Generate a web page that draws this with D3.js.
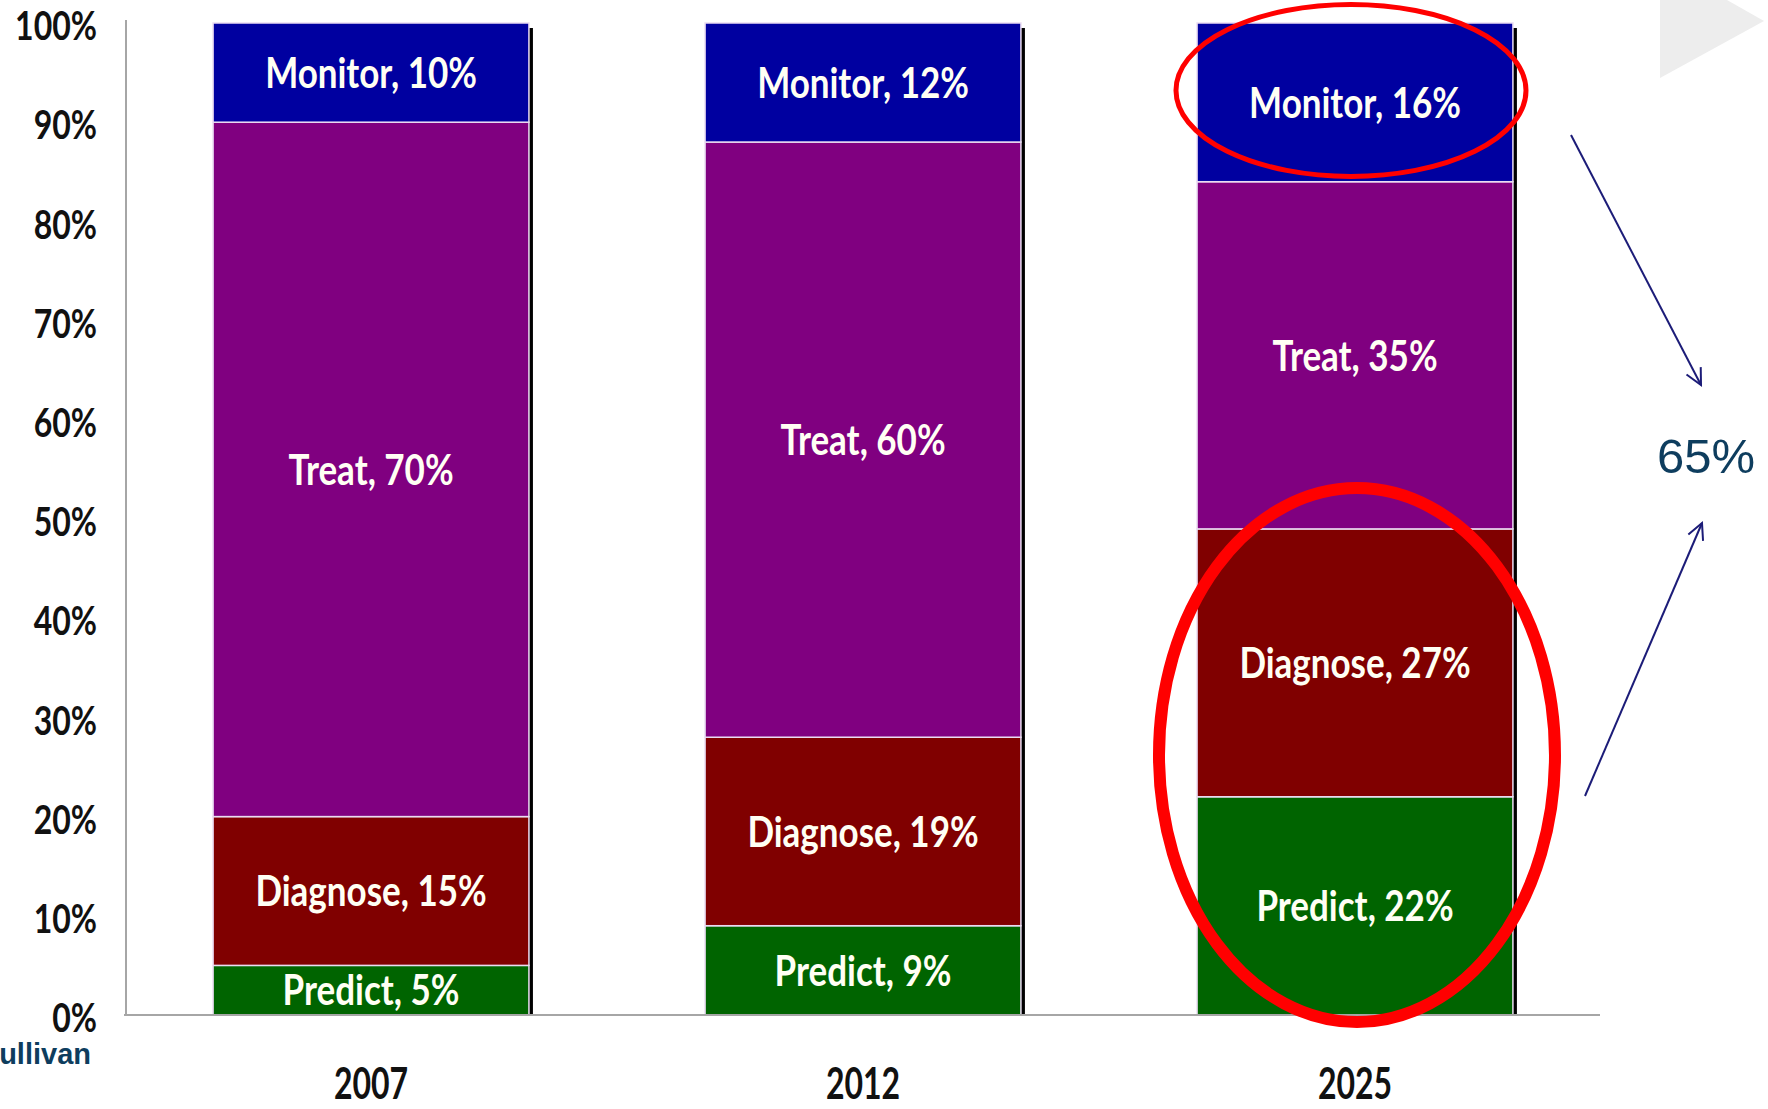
<!DOCTYPE html>
<html>
<head>
<meta charset="utf-8">
<script src="https://cdn.jsdelivr.net/npm/d3@7"></script>
<style>
  html, body { margin: 0; padding: 0; background: #ffffff; }
  svg { display: block; }
</style>
</head>
<body>
<svg id="chart" width="1768" height="1109"></svg>
<script>
// ---- data ----
const categories = ["2007", "2012", "2025"];
const segmentNames = ["Predict", "Diagnose", "Treat", "Monitor"];
const predictValues = [5, 9, 22];
const diagnoseValues = [15, 19, 27];
const treatValues = [70, 60, 35];
const monitorValues = [10, 12, 16];
const yTickValues = [0, 10, 20, 30, 40, 50, 60, 70, 80, 90, 100];
const segmentColors = ["#006400", "#800000", "#800080", "#0000a0"];
const annotationText = "65%";
const sourceText = "ullivan";

// ---- layout ----
const W = 1768, H = 1109;
const svg = d3.select("#chart");
const axisX = 126, baseY = 1015, topY = 23;
const labelFont = "Lato, 'Open Sans', sans-serif";

const rows = categories.map((c, i) => ({
  category: c,
  Predict: predictValues[i],
  Diagnose: diagnoseValues[i],
  Treat: treatValues[i],
  Monitor: monitorValues[i]
}));

const x = d3.scaleBand().domain(categories).range([axisX, 1600])
  .paddingInner(0.358).paddingOuter(0.177);
const y = d3.scaleLinear().domain([0, 100]).range([baseY, topY]);
const color = d3.scaleOrdinal().domain(segmentNames).range(segmentColors);
const bw = x.bandwidth();

const stacked = d3.stack().keys(segmentNames)(rows);

// light gray decoration at top right
svg.append("polygon")
  .attr("points", "1660,0 1727,0 1764,21 1660,78")
  .attr("fill", "#ededed");

// bar shadows (black right edge)
svg.append("g").selectAll("rect")
  .data(rows)
  .join("rect")
  .attr("x", d => x(d.category) + bw)
  .attr("y", y(100) + 5)
  .attr("width", 4)
  .attr("height", y(0) - y(100) - 5)
  .attr("fill", "#000");

// stacked segments
const layers = svg.append("g").selectAll("g")
  .data(stacked)
  .join("g")
  .attr("fill", d => color(d.key));

layers.selectAll("rect")
  .data(d => d.map(p => ({ key: d.key, p })))
  .join("rect")
  .attr("x", d => x(d.p.data.category))
  .attr("y", d => y(d.p[1]))
  .attr("width", bw)
  .attr("height", d => y(d.p[0]) - y(d.p[1]))
  .attr("stroke", "#eadcf2")
  .attr("stroke-width", 1.5);

// segment labels
const sy = 1.21;
layers.each(function(layer) {
  d3.select(this).selectAll("text")
    .data(layer.map(p => ({ key: layer.key, p })))
    .join("text")
    .attr("transform", d => `translate(${x(d.p.data.category) + bw / 2},${y((d.p[0] + d.p[1]) / 2)}) scale(1,${sy})`)
    .attr("text-anchor", "middle")
    .attr("dy", "0.36em")
    .attr("fill", "#fffff4")
    .attr("font-family", labelFont)
    .attr("font-weight", "bold")
    .attr("font-size", 35)
    .text(d => `${d.key}, ${d.p[1] - d.p[0]}%`);
});

// y axis
const yAxis = svg.append("g")
  .attr("transform", `translate(${axisX},0)`)
  .call(d3.axisLeft(y).tickValues(yTickValues).tickFormat(d => d + "%").tickSize(0).tickPadding(29));
yAxis.select(".domain").attr("stroke", "#a6a6a6").attr("stroke-width", 2)
  .attr("d", `M0,${topY - 3}V${baseY}`);
yAxis.selectAll("text")
  .attr("font-family", labelFont)
  .attr("font-weight", "bold")
  .attr("font-size", 32)
  .attr("fill", "#111")
  .attr("dy", "0.36em")
  .attr("transform", "translate(0,2) scale(1,1.27)")
  .attr("y", 0);

// x axis
const xAxis = svg.append("g")
  .attr("transform", `translate(0,${baseY})`)
  .call(d3.axisBottom(x).tickSize(0).tickPadding(0));
xAxis.select(".domain").attr("stroke", "#a6a6a6").attr("stroke-width", 2)
  .attr("d", `M${axisX - 2},0H1600`);
xAxis.selectAll("text").remove();
xAxis.selectAll(".tick").append("text")
  .attr("transform", "translate(0,68) scale(1,1.35)")
  .attr("text-anchor", "middle")
  .attr("dy", "0.36em")
  .attr("font-family", labelFont)
  .attr("font-weight", "bold")
  .attr("font-size", 32)
  .attr("fill", "#111")
  .text(d => d);

// red ellipses (annotations around 2025 segments)
const cx2025 = x("2025") + bw / 2;
svg.append("ellipse")
  .attr("cx", cx2025 - 4).attr("cy", y(93.2))
  .attr("rx", 175).attr("ry", 86)
  .attr("fill", "none").attr("stroke", "#ff0000").attr("stroke-width", 5);
svg.append("ellipse")
  .attr("cx", cx2025 + 2).attr("cy", y(26.2))
  .attr("rx", 198).attr("ry", 267)
  .attr("fill", "none").attr("stroke", "#ff0000").attr("stroke-width", 12);

// arrows
const defs = svg.append("defs");
defs.append("marker")
  .attr("id", "openArrow")
  .attr("viewBox", "-20 -12 24 24")
  .attr("markerUnits", "userSpaceOnUse")
  .attr("markerWidth", 24).attr("markerHeight", 24)
  .attr("refX", 0).attr("refY", 0)
  .attr("orient", "auto")
  .append("path")
  .attr("d", "M-16,-8L0,0L-16,8")
  .attr("fill", "none")
  .attr("stroke", "#1c1c78")
  .attr("stroke-width", 2);

svg.append("line")
  .attr("x1", 1571).attr("y1", 135).attr("x2", 1701).attr("y2", 385)
  .attr("stroke", "#1c1c78").attr("stroke-width", 2)
  .attr("marker-end", "url(#openArrow)");
svg.append("line")
  .attr("x1", 1585).attr("y1", 796).attr("x2", 1702).attr("y2", 523)
  .attr("stroke", "#1c1c78").attr("stroke-width", 2)
  .attr("marker-end", "url(#openArrow)");

svg.append("text")
  .attr("x", 1706).attr("y", 473)
  .attr("text-anchor", "middle")
  .attr("font-family", "'Liberation Sans', Arial, sans-serif")
  .attr("font-size", 49)
  .attr("fill", "#0e3d5e")
  .text(annotationText);

svg.append("text")
  .attr("x", 91).attr("y", 1064)
  .attr("text-anchor", "end")
  .attr("font-family", "'Liberation Sans', Arial, sans-serif")
  .attr("font-weight", "bold")
  .attr("font-size", 29)
  .attr("fill", "#0e3d5e")
  .text(sourceText);
</script>
</body>
</html>
